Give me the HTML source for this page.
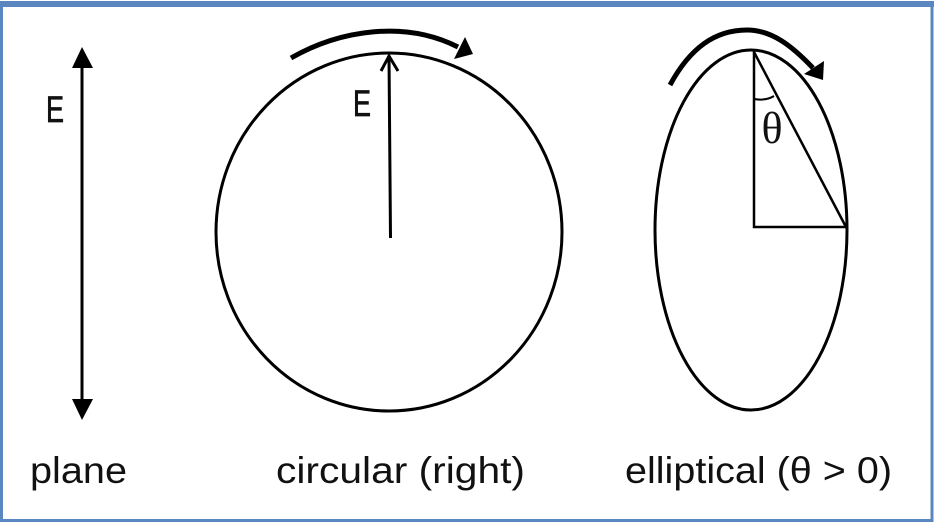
<!DOCTYPE html>
<html lang="en">
<head>
<meta charset="utf-8">
<title>Polarization states</title>
<style>
html,body{margin:0;padding:0;background:#fff;}
svg{display:block;}
text{font-family:"Liberation Sans",sans-serif;fill:#111;}
</style>
</head>
<body>
<svg width="934" height="522" viewBox="0 0 934 522" xmlns="http://www.w3.org/2000/svg">
  <rect x="0" y="0" width="934" height="522" fill="#fff"/>
  <rect x="1.500" y="3.500" width="930.500" height="517" fill="none" stroke="#5b87c0" stroke-width="3"/>
  <rect x="0" y="1" width="934" height="6" fill="#5b87c0"/>

  <g>
    <line x1="82" y1="66" x2="82" y2="401" stroke="#000" stroke-width="3"/>
    <polygon points="82,47 72,68 93,68" fill="#000"/>
    <polygon points="82,420 72,399 93,399" fill="#000"/>
    <text x="46" y="122" font-size="37" textLength="18" lengthAdjust="spacingAndGlyphs" stroke="#111" stroke-width="0.700">E</text>
    <text x="30" y="483" font-size="37" textLength="97" lengthAdjust="spacingAndGlyphs">plane</text>
  </g>

  <g>
    <ellipse cx="389" cy="232" rx="173" ry="179" fill="none" stroke="#000" stroke-width="3"/>
    <line x1="390.500" y1="238" x2="389" y2="56" stroke="#000" stroke-width="3"/>
    <polyline points="381,71 389,56 398,71" fill="none" stroke="#000" stroke-width="3"/>
    <path d="M291,58 C340,30 405,20 458,47" fill="none" stroke="#000" stroke-width="5"/>
    <polygon points="465,37 473,54 454,59" fill="#000"/>
    <text x="353" y="116" font-size="37" textLength="18" lengthAdjust="spacingAndGlyphs" stroke="#111" stroke-width="0.700">E</text>
    <text x="276" y="483" font-size="37" textLength="249" lengthAdjust="spacingAndGlyphs">circular (right)</text>
  </g>

  <g>
    <ellipse cx="751" cy="230" rx="96" ry="180" fill="none" stroke="#000" stroke-width="3"/>
    <polyline points="754,51 754,227 846,227" fill="none" stroke="#000" stroke-width="2.500"/>
    <line x1="754" y1="52" x2="846" y2="227" stroke="#000" stroke-width="2.500"/>
    <path d="M754,99 Q766,101 774,96" fill="none" stroke="#000" stroke-width="2"/>
    <path d="M670,85 C690,48 715,30 747,30 C772,30 792,46 813,68" fill="none" stroke="#000" stroke-width="5"/>
    <polygon points="824,61 823,80 804,74" fill="#000"/>
    <text x="772" y="143" font-size="44" text-anchor="middle" style="font-family:'Liberation Serif',serif">θ</text>
    <text x="625" y="483" font-size="37" textLength="267" lengthAdjust="spacingAndGlyphs">elliptical (θ &gt; 0)</text>
  </g>
</svg>
</body>
</html>
